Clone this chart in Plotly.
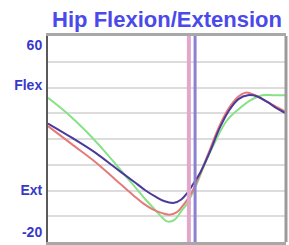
import plotly.graph_objects as go

# Gait cycle (%) and hip flexion/extension angles (deg)
blue_x = [0, 10, 20, 28, 36, 41, 45, 49, 53, 56, 58.5, 61, 64, 68, 72, 76, 80, 84, 88, 92, 96, 100]
blue_y = [26, 20.5, 14.6, 9, 3.5, 0, -2.3, -4.2, -4.8, -3.5, -1, 2.5, 7, 15, 24, 31, 35.5, 37, 36.5, 34.5, 32, 30]

red_x = [0, 10, 20, 28, 36, 40, 44, 48, 51, 54, 57, 60, 63, 67, 72, 76, 80, 83, 87, 91, 95, 100]
red_y = [25, 18, 11, 4.5, -2, -5, -7.3, -8.8, -9.4, -8.5, -5.5, -1.5, 4.5, 13.5, 25, 32, 36.5, 38, 37, 35, 33, 30.5]

green_x = [0, 8, 16, 24, 30, 36, 41, 45, 48, 50, 53, 56, 58.5, 62, 66, 70, 75, 80, 85, 90, 95, 100]
green_y = [36, 30, 23, 15, 8.5, 2, -3.5, -7.5, -10.5, -12, -11.5, -8, -5, 1.5, 10.5, 18.5, 27, 31.5, 35, 37, 37, 37]

toe_off = [59.2, 61.8]
toe_colors = ["#e2a8cc", "#8c80d2"]

tick_labels = ["60", "Flex", "Ext", "-20"]
tick_vals = [56.5, 41, 0, -16]

fig = go.Figure()
fig.add_trace(go.Scatter(x=green_x, y=green_y, mode="lines", line=dict(color="#86e286", width=2, shape="spline"), showlegend=False))
fig.add_trace(go.Scatter(x=red_x, y=red_y, mode="lines", line=dict(color="#e57a7a", width=2, shape="spline"), showlegend=False))
fig.add_trace(go.Scatter(x=blue_x, y=blue_y, mode="lines", line=dict(color="#4a3a9a", width=2, shape="spline"), showlegend=False))

for xv, c, w in zip(toe_off, toe_colors, [4, 3]):
    fig.add_shape(type="line", xref="x", yref="paper", x0=xv, x1=xv, y0=0, y1=1,
                  line=dict(color=c, width=w), layer="above")

# right border
fig.add_shape(type="line", xref="paper", yref="paper", x0=1, x1=1, y0=0, y1=1,
              line=dict(color="#9a9a9a", width=3))

fig.update_layout(
    width=289, height=245,
    margin=dict(l=48, r=3, t=36, b=3),
    paper_bgcolor="white", plot_bgcolor="white",
    title=dict(text="Hip Flexion/Extension", x=0.5, xref="paper", y=1 - 19 / 245, yanchor="middle",
               font=dict(family="Liberation Sans, Arial", size=22, color="#4a4aea", weight="bold")),
    xaxis=dict(range=[0, 100], showticklabels=False, showgrid=False, zeroline=False,
               showline=True, linecolor="#a8a8a8", linewidth=3, mirror=True, ticks=""),
    yaxis=dict(range=[-20, 60], tickvals=tick_vals, ticktext=tick_labels, showgrid=False, zeroline=False,
               showline=True, linecolor="#5a5a5a", linewidth=2, ticks="", ticklabelstandoff=1,
               automargin=False,
               tickfont=dict(family="Liberation Sans, Arial", size=14, color="#3838c8", weight="bold"),
               minor=dict(tick0=-20, dtick=10, showgrid=True, gridcolor="#dcdcdc", gridwidth=2, ticks="")),
)

fig.write_html("out.html", config={"displayModeBar": False},
               post_script="document.body.style.margin='0';")
